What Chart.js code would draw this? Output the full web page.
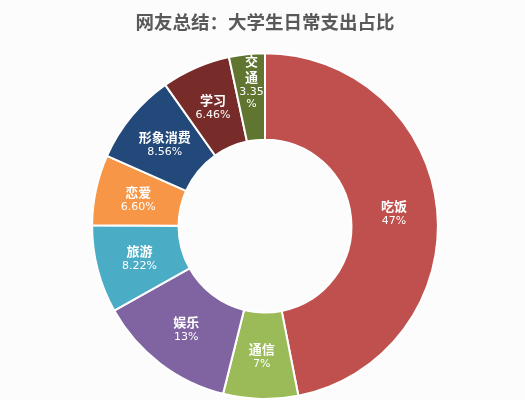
<!DOCTYPE html>
<html lang="zh-CN">
<head>
    <meta charset="UTF-8">
    <title>大学生日常支出占比</title>
    <script src="https://cdn.jsdelivr.net/npm/chart.js"></script>
    <style>
        * { margin: 0; padding: 0; box-sizing: border-box; }
        body { background: #fdfcfd; width: 525px; height: 400px; overflow: hidden; }
        .chart-container { position: relative; width: 525px; height: 400px; }
    </style>
</head>
<body>
    <div class="chart-container">
        <canvas id="myDoughnut"></canvas>
    </div>

    <script>
        // 分类与数值（顺时针，从12点方向开始）
        const categories = ['吃饭', '通信', '娱乐', '旅游', '恋爱', '形象消费', '学习', '交通'];
        const values = [47, 7, 13, 8.22, 6.60, 8.56, 6.46, 3.35];
        const percentLabels = ['47%', '7%', '13%', '8.22%', '6.60%', '8.56%', '6.46%', '3.35%'];
        const colors = ['#c0504d', '#9bbb59', '#8064a2', '#4bacc6', '#f79646', '#23497a', '#772c2a', '#5f7530'];

        // 在扇区中间画名称和百分比
        const sliceLabels = {
            id: 'sliceLabels',
            afterDatasetsDraw(chart) {
                const c = chart.ctx;
                const meta = chart.getDatasetMeta(0);
                c.save();
                c.fillStyle = '#ffffff';
                c.textAlign = 'center';
                c.textBaseline = 'middle';
                meta.data.forEach((arc, i) => {
                    const p = arc.tooltipPosition();
                    const name = categories[i];
                    const pct = percentLabels[i];
                    if (name === '交通') {
                        // 扇区太窄，竖着排
                        const y0 = p.y - 36;
                        c.font = 'bold 13px "Noto Sans CJK SC"';
                        c.fillText(name[0], p.x, y0);
                        c.fillText(name[1], p.x, y0 + 16);
                        c.font = '11px "DejaVu Sans"';
                        c.fillText(pct.replace('%', ''), p.x, y0 + 31);
                        c.fillText('%', p.x, y0 + 43);
                    } else {
                        c.font = 'bold 13px "Noto Sans CJK SC"';
                        c.fillText(name, p.x, p.y - 7);
                        c.font = '11px "DejaVu Sans"';
                        c.fillText(pct, p.x, p.y + 8);
                    }
                });
                c.restore();
            }
        };

        const ctx = document.getElementById('myDoughnut').getContext('2d');
        new Chart(ctx, {
            type: 'doughnut',
            data: {
                labels: categories,
                datasets: [{
                    data: values,
                    backgroundColor: colors,
                    borderColor: '#ffffff',
                    borderWidth: 2
                }]
            },
            options: {
                responsive: true,
                maintainAspectRatio: false,
                animation: false,
                cutout: '50%',
                layout: { padding: { top: 0, bottom: 0, left: 5, right: 0 } },
                plugins: {
                    legend: { display: false },
                    tooltip: { enabled: false },
                    title: {
                        display: true,
                        text: '网友总结：大学生日常支出占比',
                        color: '#595959',
                        font: { family: '"Noto Sans CJK SC"', size: 18.5, weight: 'bold' },
                        padding: { top: 11, bottom: 19 }
                    }
                }
            },
            plugins: [sliceLabels]
        });
    </script>
</body>
</html>
